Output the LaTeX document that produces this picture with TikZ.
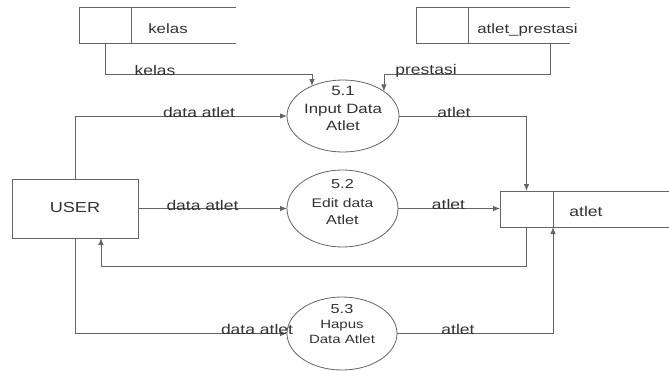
\documentclass[tikz,border=0pt]{standalone}
\usepackage{fontspec}
\setmainfont{Liberation Sans}[FakeStretch=1.25]
\usetikzlibrary{arrows.meta,shapes.geometric}
\definecolor{linegray}{RGB}{100,100,100}
\definecolor{textgray}{RGB}{50,50,50}
\newcommand{\fs}[1]{\fontsize{#1}{#1}\selectfont}
\begin{document}
\begin{tikzpicture}[x=1pt,y=-1pt,
  line/.style={draw=linegray, line width=0.8pt},
  flow/.style={line, -{Latex[length=7pt,width=5.5pt]}},
  proc/.style={ellipse, line, inner sep=0pt, outer sep=0pt},
  storebox/.style={rectangle, line, inner sep=0pt, outer sep=0pt, minimum width=52pt, minimum height=36pt},
  entity/.style={rectangle, line, inner sep=0pt, outer sep=0pt, minimum width=126pt, minimum height=59pt},
  txt/.style={text=textgray, inner sep=0pt, anchor=base},
  flowlabel/.style={txt, font=\fs{14}},
  proctext/.style={txt, font=\fs{13}}]
\useasboundingbox (0,0) rectangle (669,370);

% external entity
\node[entity] (user) at (75,208.5) {};
\node[txt, font=\fs{14.5}] (usertxt) at (75,212) {USER};

% data stores
\node[storebox] (kelasbox) at (105.5,25) {};
\draw[line] (kelasbox.north east) -- ++(104,0);
\draw[line] (kelasbox.south east) -- ++(104,0);
\node[txt, font=\fs{13.5}] (kelastxt) at (168,33) {kelas};

\node[storebox] (prestbox) at (442,25) {};
\draw[line] (prestbox.north east) -- ++(102,0);
\draw[line] (prestbox.south east) -- ++(102,0);
\node[txt, font=\fs{13.5}] (presttxt) at (527.5,33) {atlet\_prestasi};
\coordinate (prestout) at (550,43);

\node[storebox, minimum width=53pt] (atletbox) at (526.5,209) {};
\draw[line] (atletbox.north east) -- (669,191);
\draw[line] (atletbox.south east) -- (669,227);
\node[txt, font=\fs{14}] (atlettxt) at (586,216) {atlet};

% processes
\node[proc, minimum width=112pt, minimum height=72pt] (p51) at (343,116) {};
\node[proctext, font=\fs{13.5}] (p51a) at (343,95) {5.1};
\node[proctext, font=\fs{13.5}] (p51b) at (343,113) {Input Data};
\node[proctext, font=\fs{13.5}] (p51c) at (343,130) {Atlet};

\node[proc, minimum width=111pt, minimum height=77pt] (p52) at (342.5,208.5) {};
\node[proctext] (p52a) at (342.5,188.5) {5.2};
\node[proctext, font=\fs{12.5}] (p52b) at (342.5,207) {Edit data};
\node[proctext] (p52c) at (342.5,224) {Atlet};

\node[proc, minimum width=110pt, minimum height=73pt] (p53) at (342,333.5) {};
\node[proctext] (p53a) at (342,313) {5.3};
\node[proctext, font=\fs{12}] (p53b) at (342,328) {Hapus};
\node[proctext, font=\fs{12}] (p53c) at (342,343) {Data Atlet};

% data flows
\coordinate (toprow) at (0,74);
\draw[flow] (kelasbox.south) |- (p51.136 |- toprow) -- (p51.136);
\node[flowlabel] (lkelas) at (155,75) {kelas};

\draw[flow] (prestout) |- (p51.31 |- toprow) -- (p51.31);
\node[flowlabel] (lprest) at (426,74) {prestasi};

\draw[flow] (user.north) |- (p51.west);
\node[flowlabel] (ld1) at (199,117) {data atlet};

\draw[flow] (p51.east) -| (atletbox.north);
\node[flowlabel] (la1) at (454,117) {atlet};

\draw[flow] (user.east |- p52.west) -- (p52.west);
\node[flowlabel] (ld2) at (202.5,210) {data atlet};

\draw[flow] (p52.east) -- (p52.east -| atletbox.west);
\node[flowlabel] (la2) at (448.5,209) {atlet};

\coordinate (retcorner) at (101,266);
\draw[flow] (atletbox.south) |- (retcorner) -- (retcorner |- user.south);

\draw[flow] (user.south) |- (p53.west);
\node[flowlabel] (ld3) at (257,334) {data atlet};

\draw[flow] (p53.east) -| (atletbox.south east);
\node[flowlabel] (la3) at (458,334) {atlet};
\end{tikzpicture}
\end{document}
